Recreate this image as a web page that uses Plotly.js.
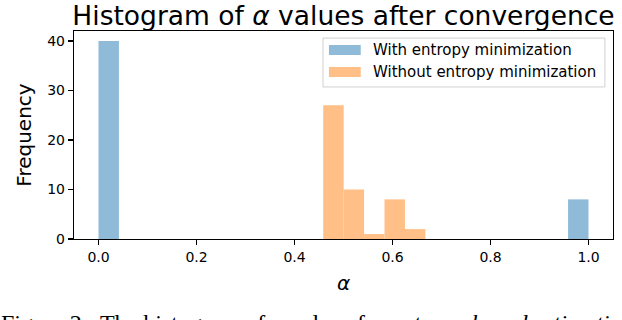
<!DOCTYPE html>
<html>
<head>
<meta charset="utf-8">
<script src="https://cdn.plot.ly/plotly-3.0.1.min.js"></script>
<style>
html,body{margin:0;padding:0;background:#fff;overflow:hidden;}
#chart{width:622px;height:320px;}
</style>
</head>
<body>
<div id="chart"></div>
<script>
// Data
const seriesNames = ["With entropy minimization", "Without entropy minimization"];
const withBinStarts = [0.0, 0.9583];
const withCounts = [40, 8];
const withoutBinStarts = [0.4586, 0.5003, 0.5420, 0.5837, 0.6254];
const withoutCounts = [27, 10, 1, 8, 2];
const binWidths = [0.0417, 0.0417];
const yTicks = [0, 10, 20, 30, 40];
const xTicks = [0.0, 0.2, 0.4, 0.6, 0.8, 1.0];

const blue = "#8fbbd9";
const orange = "#ffbf86";
const font = "DejaVu Sans, sans-serif";

const traces = [
  {type: "bar", x: withBinStarts, y: withCounts, width: withBinStarts.map(() => binWidths[0]),
   offset: 0, marker: {color: blue, line: {width: 0}}, name: seriesNames[0], showlegend: false},
  {type: "bar", x: withoutBinStarts, y: withoutCounts, width: withoutBinStarts.map(() => binWidths[1]),
   offset: 0, marker: {color: orange, line: {width: 0}}, name: seriesNames[1], showlegend: false}
];

const layout = {
  width: 622, height: 320,
  margin: {l: 74, r: 9, t: 31, b: 81},
  paper_bgcolor: "#fff", plot_bgcolor: "#fff",
  barmode: "overlay",
  font: {family: font, color: "#000"},
  title: {text: "Histogram of <i>α</i> values after convergence", font: {family: font, size: 26.5, color: "#000"},
          x: 0.5, xref: "paper", xanchor: "center", y: 0.952, yref: "container", yanchor: "middle"},
  xaxis: {range: [-0.05, 1.05], tickvals: xTicks, ticktext: xTicks.map(v => v.toFixed(1)),
          showline: true, mirror: true, linecolor: "#000", linewidth: 1.2, showgrid: false, zeroline: false,
          ticks: "outside", ticklen: 5, tickwidth: 1.2, tickcolor: "#000", tickfont: {size: 14, family: font},
          title: {text: "<i>α</i>", font: {size: 20, family: font}, standoff: 12}},
  yaxis: {range: [0, 42], tickvals: yTicks, showline: true, mirror: true, linecolor: "#000", linewidth: 1.2,
          showgrid: false, zeroline: false, ticks: "outside", ticklen: 5, tickwidth: 1.2, tickcolor: "#000",
          tickfont: {size: 14, family: font},
          title: {text: "Frequency", font: {size: 20, family: font}, standoff: 10}},
  shapes: [
    {type: "rect", xref: "paper", yref: "paper", x0: 0.462, x1: 0.985, y0: 0.731, y1: 0.966,
     line: {color: "#d0d0d0", width: 1}, fillcolor: "rgba(255,255,255,0.8)"},
    {type: "rect", xref: "paper", yref: "paper", x0: 0.473, x1: 0.532, y0: 0.885, y1: 0.933,
     line: {width: 0}, fillcolor: blue},
    {type: "rect", xref: "paper", yref: "paper", x0: 0.473, x1: 0.532, y0: 0.779, y1: 0.827,
     line: {width: 0}, fillcolor: orange}
  ],
  annotations: [
    {xref: "paper", yref: "paper", x: 0.551, y: 0.909, xanchor: "left", yanchor: "middle", showarrow: false,
     text: seriesNames[0], font: {size: 15, family: font, color: "#000"}},
    {xref: "paper", yref: "paper", x: 0.551, y: 0.803, xanchor: "left", yanchor: "middle", showarrow: false,
     text: seriesNames[1], font: {size: 15, family: font, color: "#000"}},
    {xref: "paper", yref: "paper", x: -0.139, y: -0.33, xanchor: "left", yanchor: "top", showarrow: false,
     text: "Figure 2:  The histogram of <i>α</i> values for <i>entropy-based estimation</i>",
     font: {size: 24, family: "Liberation Serif, serif", color: "#000"}}
  ]
};

Plotly.newPlot("chart", traces, layout, {displayModeBar: false, staticPlot: true});
</script>
</body>
</html>
